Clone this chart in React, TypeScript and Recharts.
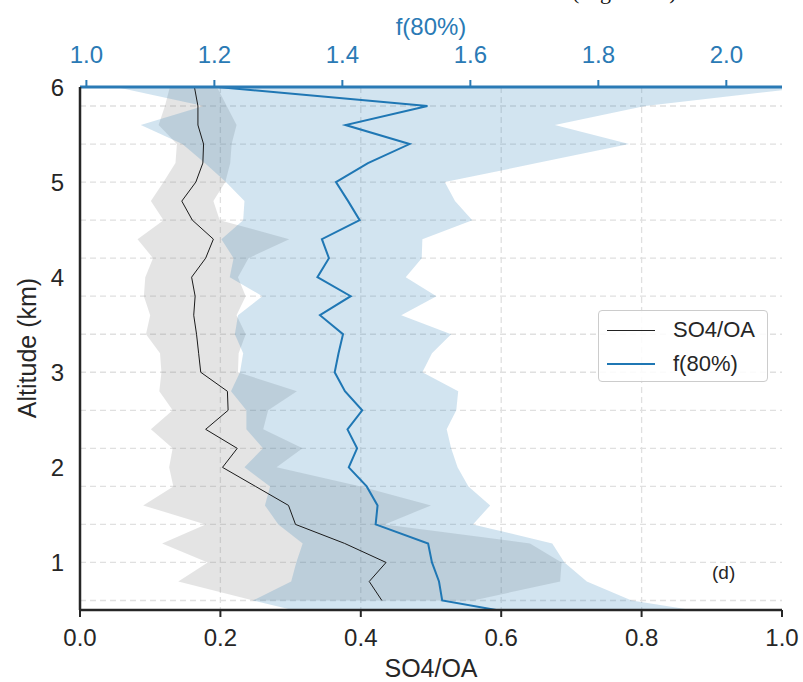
import React from 'react';
import { ComposedChart, Area, Line, XAxis, YAxis, CartesianGrid, Legend } from 'recharts';

// altitude levels (km), top to bottom; 0.4 only exists for f(80%) and is clipped by the axis
const altitude = [6.0, 5.8, 5.6, 5.4, 5.2, 5.0, 4.8, 4.6, 4.4, 4.2, 4.0, 3.8, 3.6, 3.4, 3.2, 3.0, 2.8, 2.6, 2.4, 2.2, 2.0, 1.8, 1.6, 1.4, 1.2, 1.0, 0.8, 0.6, 0.4];

const so4oaMean = [0.163, 0.168, 0.168, 0.176, 0.175, 0.165, 0.145, 0.160, 0.190, 0.179, 0.159, 0.164, 0.162, 0.166, 0.169, 0.172, 0.210, 0.211, 0.179, 0.224, 0.203, 0.250, 0.297, 0.307, 0.377, 0.436, 0.412, 0.430];
const so4oaLow = [0.128, 0.121, 0.112, 0.138, 0.136, 0.119, 0.101, 0.119, 0.082, 0.104, 0.093, 0.091, 0.100, 0.094, 0.114, 0.116, 0.113, 0.132, 0.101, 0.132, 0.127, 0.133, 0.090, 0.179, 0.117, 0.182, 0.140, 0.247];
const so4oaHigh = [0.195, 0.209, 0.223, 0.216, 0.214, 0.207, 0.190, 0.199, 0.298, 0.240, 0.225, 0.236, 0.223, 0.236, 0.226, 0.225, 0.309, 0.268, 0.261, 0.317, 0.280, 0.400, 0.500, 0.434, 0.641, 0.686, 0.684, 0.560];

const f80Mean = [1.205, 1.533, 1.405, 1.505, 1.440, 1.390, 1.409, 1.427, 1.368, 1.379, 1.361, 1.413, 1.365, 1.401, 1.394, 1.388, 1.404, 1.431, 1.408, 1.423, 1.410, 1.438, 1.455, 1.452, 1.534, 1.540, 1.551, 1.556, 1.725];
const f80Low = [1.046, 1.183, 1.085, 1.150, 1.185, 1.218, 1.247, 1.245, 1.211, 1.230, 1.224, 1.275, 1.237, 1.232, 1.245, 1.240, 1.226, 1.250, 1.250, 1.276, 1.247, 1.287, 1.279, 1.300, 1.338, 1.328, 1.320, 1.260, 1.385];
const f80High = [2.130, 1.873, 1.732, 1.848, 1.704, 1.560, 1.576, 1.603, 1.525, 1.524, 1.499, 1.547, 1.492, 1.570, 1.540, 1.525, 1.581, 1.578, 1.563, 1.570, 1.580, 1.597, 1.631, 1.604, 1.728, 1.747, 1.782, 1.852, 2.040];

const so4Ticks = [0, 0.2, 0.4, 0.6, 0.8, 1.0];
const f80Ticks = [1.0, 1.2, 1.4, 1.6, 1.8, 2.0];
const altTicks = [1, 2, 3, 4, 5, 6];
const gridAlt = [0.6, 0.8, 1.0, 1.2, 1.4, 1.6, 1.8, 2.0, 2.2, 2.4, 2.6, 2.8, 3.0, 3.2, 3.4, 3.6, 3.8, 4.0, 4.2, 4.4, 4.6, 4.8, 5.0, 5.2, 5.4, 5.6, 5.8];
const gridSo4 = [0.2, 0.4, 0.6, 0.8];

const rows = altitude.map((alt, i) => ({
  alt,
  so4: so4oaMean[i] ?? null,
  so4Band: so4oaLow[i] != null ? [so4oaLow[i], so4oaHigh[i]] : null,
  f80: f80Mean[i],
  f80Band: [f80Low[i], f80High[i]],
}));

const FONT = '"Liberation Sans", Arial, sans-serif';
const DARK = '#262626';
const BLUE = '#1f77b4';

const LegendBox = () => (
  <div
    style={{
      width: 170,
      height: 72,
      border: '1px solid #cccccc',
      borderRadius: 4,
      background: 'rgba(255,255,255,0.85)',
      fontFamily: FONT,
      fontSize: 22,
      color: DARK,
      boxSizing: 'border-box',
    }}
  >
    {[
      { name: 'SO4/OA', color: '#222', w: 1 },
      { name: 'f(80%)', color: BLUE, w: 2 },
    ].map((it, i) => (
      <div key={it.name} style={{ position: 'absolute', left: 9, top: 6 + i * 34, height: 28, display: 'flex', alignItems: 'center' }}>
        <div style={{ width: 48, height: it.w, background: it.color }} />
        <span style={{ marginLeft: 18 }}>{it.name}</span>
      </div>
    ))}
  </div>
);

export default function App() {
  return (
    <div style={{ position: 'absolute', left: 0, top: 0, width: 803, height: 682, background: '#fff' }}>
      <ComposedChart
        width={803}
        height={682}
        layout="vertical"
        data={rows}
        margin={{ top: 0, right: 21, bottom: 0, left: 0 }}
      >
        <CartesianGrid
          xAxisId="so4"
          yAxisId="alt"
          stroke="#e0e0e0"
          strokeWidth={1.3}
          strokeDasharray="6 4"
          horizontalValues={gridAlt}
          verticalValues={gridSo4}
        />
        <XAxis
          xAxisId="so4"
          type="number"
          orientation="bottom"
          domain={[0, 1]}
          ticks={so4Ticks}
          tickFormatter={(v: number) => v.toFixed(1)}
          height={72}
          axisLine={{ stroke: DARK, strokeWidth: 2.5 }}
          tickLine={{ stroke: DARK, strokeWidth: 2 }}
          tickSize={7}
          tickMargin={12}
          tick={{ fill: DARK, fontSize: 24, fontFamily: FONT }}
        />
        <XAxis
          xAxisId="f80"
          type="number"
          orientation="top"
          domain={[0.99, 2.087]}
          allowDataOverflow
          ticks={f80Ticks}
          tickFormatter={(v: number) => v.toFixed(1)}
          height={87}
          axisLine={{ stroke: '#2a7ab5', strokeWidth: 3 }}
          tickLine={{ stroke: '#2a7ab5', strokeWidth: 2 }}
          tickSize={7}
          tickMargin={17}
          tick={{ fill: '#2a7ab5', fontSize: 24, fontFamily: FONT }}
        />
        <YAxis
          yAxisId="alt"
          type="number"
          dataKey="alt"
          domain={[0.5, 6]}
          reversed
          allowDataOverflow
          ticks={altTicks}
          width={80}
          axisLine={{ stroke: DARK, strokeWidth: 2.5 }}
          tickLine={false}
          tickSize={6}
          tickMargin={10}
          tick={{ fill: DARK, fontSize: 24, fontFamily: FONT }}
        />
        <YAxis
          yAxisId="right"
          orientation="right"
          type="number"
          domain={[0.5, 6]}
          reversed
          width={0}
          tick={false}
          tickLine={false}
          axisLine={{ stroke: DARK, strokeWidth: 2.5 }}
        />
        <Area
          xAxisId="so4"
          yAxisId="alt"
          dataKey="so4Band"
          type="linear"
          stroke="none"
          fill="#7f7f7f"
          fillOpacity={0.21}
          isAnimationActive={false}
          legendType="none"
        />
        <Area
          xAxisId="f80"
          yAxisId="alt"
          dataKey="f80Band"
          type="linear"
          stroke="none"
          fill={BLUE}
          fillOpacity={0.2}
          isAnimationActive={false}
          legendType="none"
        />
        <Line
          xAxisId="so4"
          yAxisId="alt"
          dataKey="so4"
          name="SO4/OA"
          type="linear"
          stroke="#1a1a1a"
          strokeWidth={1}
          dot={false}
          isAnimationActive={false}
        />
        <Line
          xAxisId="f80"
          yAxisId="alt"
          dataKey="f80"
          name="f(80%)"
          type="linear"
          stroke={BLUE}
          strokeWidth={2}
          dot={false}
          isAnimationActive={false}
        />
        <Legend
          layout="horizontal"
          verticalAlign="middle"
          align="center"
          content={() => <LegendBox />}
          wrapperStyle={{ left: 598, top: 310, width: 172, height: 74 }}
        />
      </ComposedChart>
      <svg
        width={803}
        height={682}
        style={{ position: 'absolute', left: 0, top: 0, pointerEvents: 'none' }}
        fontFamily={FONT}
      >
        <text x={572} y={-1} fontFamily='"Liberation Serif", "Times New Roman", serif' fontSize={22} fill="#111">
          (Right axis)
        </text>
        <text x={431} y={35} textAnchor="middle" fontSize={24} fill="#2a7ab5">
          f(80%)
        </text>
        <text x={431} y={677} textAnchor="middle" fontSize={25} fill={DARK}>
          SO4/OA
        </text>
        <text x={36} y={348} textAnchor="middle" fontSize={25} fill={DARK} transform="rotate(-90 36 348)">
          Altitude (km)
        </text>
        <text x={712} y={579} fontSize={19} fill={DARK}>
          (d)
        </text>
      </svg>
    </div>
  );
}
